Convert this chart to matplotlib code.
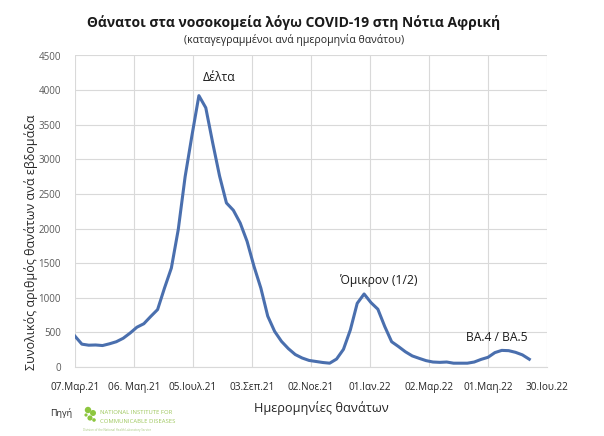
import matplotlib
matplotlib.use("Agg")
import matplotlib.pyplot as plt
import matplotlib.patches as mpatches
import pandas as pd
import numpy as np

plt.rcParams['font.family'] = ['Open Sans', 'Noto Sans', 'DejaVu Sans']

# weekly hospital deaths, weeks starting 07 Mar 2021
deaths = [445, 330, 315, 318, 310, 335, 365, 415, 490, 575,
          625, 730, 830, 1140, 1430, 1985, 2750, 3350, 3920, 3745,
          3240, 2760, 2370, 2265, 2080, 1815, 1455, 1140, 735, 515,
          370, 265, 180, 130, 95, 80, 65, 55, 115, 255,
          535, 920, 1055, 930, 835, 585, 365, 295, 220, 160,
          125, 92, 72, 67, 72, 55, 55, 55, 72, 110,
          140, 208, 240, 236, 212, 175, 112]
start_date = "2021-03-07"

tick_dates = ["2021-03-07", "2021-05-06", "2021-07-05", "2021-09-03", "2021-11-02",
              "2022-01-01", "2022-03-02", "2022-05-01", "2022-06-30"]
tick_labels = ["07.Μαρ.21", "06. Μαη.21", "05.Ιουλ.21", "03.Σεπ.21", "02.Νοε.21",
               "01.Ιαν.22", "02.Μαρ.22", "01.Μαη.22", "30.Ιου.22"]
y_ticks = [0, 500, 1000, 1500, 2000, 2500, 3000, 3500, 4000, 4500]

annotations = [("Δέλτα", "2021-08-01", 4180),
               ("Όμικρον (1/2)", "2022-01-10", 1244),
               ("BA.4 / BA.5", "2022-05-10", 420)]

title = "Θάνατοι στα νοσοκομεία λόγω COVID-19 στη Νότια Αφρική"
subtitle = "(καταγεγραμμένοι ανά ημερομηνία θανάτου)"
xlabel = "Ημερομηνίες θανάτων"
ylabel = "Συνολικός αριθμός θανάτων ανά εβδομάδα"

W, H = 604, 436
fig = plt.figure(figsize=(W / 100, H / 100), dpi=100)
ax = fig.add_axes([75 / W, 1 - 367 / H, (547 - 75) / W, (367 - 55.5) / H])

dates = pd.date_range(start_date, periods=len(deaths), freq="7D")
tdates = pd.to_datetime(tick_dates)

ax.plot(dates, deaths, color="#4A6FAE", lw=2.2, solid_joinstyle="round", zorder=3)

ax.set_xlim(tdates[0], tdates[-1])
ax.set_ylim(0, 4500)
ax.set_yticks(y_ticks)
ax.set_yticklabels([str(v) for v in y_ticks], fontsize=7, color="#595959")
ax.set_xticks(tdates)
ax.set_xticklabels(tick_labels, fontsize=7.2, color="#262626")
ax.tick_params(axis="both", length=0)
ax.tick_params(axis="y", pad=10)
ax.tick_params(axis="x", pad=11)
ax.grid(True, color="#D9D9D9", lw=0.8)
for s in ["top", "right", "left"]:
    ax.spines[s].set_visible(False)
ax.spines["bottom"].set_color("#D9D9D9")
ax.spines["bottom"].set_linewidth(0.8)

for txt, d, v in annotations:
    ax.text(pd.Timestamp(d), v, txt, fontsize=8.7, ha="center", va="center", color="#1a1a1a")

def fy(y):
    return 1 - y / H

fig.text(293.5 / W, fy(23), title, fontsize=10, fontweight="bold", ha="center", va="center", color="#1a1a1a")
fig.text(294.5 / W, fy(40), subtitle, fontsize=7.6, ha="center", va="center", color="#262626")
fig.text(321 / W, fy(408), xlabel, fontsize=9.2, ha="center", va="center", color="#262626")
fig.text(31 / W, fy(242), ylabel, fontsize=9, rotation=90, ha="center", va="center", color="#262626")

# source / logo
fig.text(61 / W, fy(413), "Πηγή", fontsize=6.5, ha="center", va="center", color="#262626")
green = "#8DC63F"
for (cx, cy, r) in [(88, 410, 3.2), (93, 413, 3.0), (90, 418, 2.6), (94, 420, 1.8), (86, 415, 1.6)]:
    fig.patches.append(mpatches.Ellipse((cx / W, fy(cy)), 2 * r / W, 2 * r / H,
                                        transform=fig.transFigure, color=green, lw=0))
fig.text(100 / W, fy(412), "NATIONAL INSTITUTE FOR", fontsize=4.2, ha="left", va="center", color="#9CC65A")
fig.text(100 / W, fy(421), "COMMUNICABLE DISEASES", fontsize=4.2, ha="left", va="center", color="#9CC65A")
fig.text(83 / W, fy(430), "Division of the National Health Laboratory Service", fontsize=2.2, ha="left",
         va="center", color="#A8C880")

fig.savefig("out.png", dpi=100, facecolor="white")
